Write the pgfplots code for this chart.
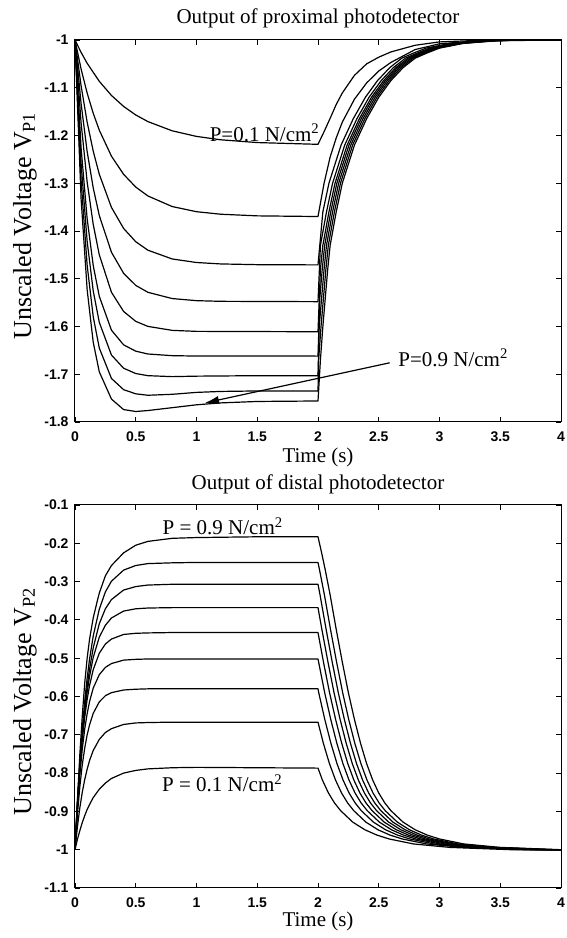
\documentclass[border=0pt]{standalone}
\usepackage{fontspec}
\setmainfont{Liberation Serif}
\newfontfamily\tickfont{Liberation Sans}
\usepackage{pgfplots}
\pgfplotsset{compat=1.18}
\usetikzlibrary{arrows.meta}
\begin{document}
\begin{tikzpicture}
\useasboundingbox (0,0) rectangle (567pt,938pt);
\pgfplotsset{
 mystyle/.style={
  scale only axis, width=486pt,
  xmin=0, xmax=4,
  xtick={0,0.5,1,1.5,2,2.5,3,3.5,4},
  xticklabels={0,0.5,1,1.5,2,2.5,3,3.5,4},
  tick align=inside, xtick pos=both, ytick pos=both, major tick length=5pt,
  axis line style={line width=1.0pt},
  every tick/.style={line width=0.9pt, black},
  tick label style={font=\tickfont\bfseries\fontsize{14}{14}\selectfont},
  xticklabel style={yshift=-6pt},
  yticklabel style={xshift=-3pt},
  ylabel style={font=\fontsize{26}{26}\selectfont, anchor=center},
  every axis plot post/.append style={black, solid, mark=none, line width=1.2pt, line join=round},
 }}
% ---------------- top axis ----------------
\begin{axis}[mystyle, at={(75pt,516pt)}, anchor=south west, height=382pt,
  ymin=-1.8, ymax=-1,
  ytick={-1.8,-1.7,-1.6,-1.5,-1.4,-1.3,-1.2,-1.1,-1},
  yticklabels={-1.8,-1.7,-1.6,-1.5,-1.4,-1.3,-1.2,-1.1,-1},
  ylabel={Unscaled Voltage V\textsubscript{P1}},
  ylabel style={at={(axis description cs:-0.103,0.513)}},
]
% P=0.1
\addplot coordinates {(0,-1) (0.05,-1.0259) (0.1,-1.0487) (0.2,-1.0866) (0.3,-1.1161) (0.4,-1.1391) (0.5,-1.1570) (0.6,-1.1709) (0.8,-1.1902) (1.0,-1.2019) (1.2,-1.2090) (1.5,-1.2148) (2.0,-1.2185)
 (2.05,-1.192) (2.1,-1.164) (2.15,-1.135) (2.2,-1.111) (2.3,-1.074) (2.4,-1.050) (2.5,-1.036) (2.6,-1.025) (2.8,-1.011) (3.0,-1.004) (3.3,-1.001) (4.0,-1.0)};
% P=0.2
\addplot coordinates {(0,-1) (0.05,-1.0605) (0.1,-1.1111) (0.15,-1.1534) (0.2,-1.1889) (0.3,-1.2433) (0.4,-1.2813) (0.5,-1.3080) (0.6,-1.3266) (0.8,-1.3488) (1.0,-1.3596) (1.2,-1.3649) (1.5,-1.3683) (2.0,-1.3697)
 (2.05,-1.300) (2.1,-1.245) (2.15,-1.205) (2.2,-1.172) (2.3,-1.124) (2.4,-1.090) (2.5,-1.065) (2.6,-1.047) (2.8,-1.020) (3.0,-1.008) (3.3,-1.002) (4.0,-1.0)};
% P=0.3
\addplot coordinates {(0,-1) (0.05,-1.0958) (0.1,-1.1720) (0.15,-1.2328) (0.2,-1.2812) (0.3,-1.3506) (0.4,-1.3946) (0.5,-1.4225) (0.6,-1.4402) (0.8,-1.4586) (1.0,-1.4660) (1.2,-1.4690) (1.5,-1.4705) (2.0,-1.471)
 (2.04,-1.36) (2.09,-1.30) (2.19,-1.22) (2.29,-1.165) (2.39,-1.12) (2.49,-1.085) (2.59,-1.058) (2.69,-1.038) (2.79,-1.027) (2.89,-1.017) (3.09,-1.007) (3.39,-1.001) (3.89,-1.0) (4,-1.0)};
% P=0.4
\addplot coordinates {(0,-1) (0.05,-1.1329) (0.1,-1.2336) (0.15,-1.3098) (0.2,-1.3676) (0.3,-1.4445) (0.4,-1.4886) (0.5,-1.5139) (0.6,-1.5284) (0.8,-1.5415) (1.0,-1.5459) (1.2,-1.5473) (2.0,-1.548)
 (2.02,-1.43) (2.07,-1.36) (2.12,-1.30) (2.22,-1.22) (2.32,-1.165) (2.42,-1.12) (2.52,-1.085) (2.62,-1.058) (2.72,-1.038) (2.82,-1.027) (2.92,-1.017) (3.12,-1.007) (3.42,-1.001) (3.92,-1.0) (4,-1.0)};
% P=0.5
\addplot coordinates {(0,-1) (0.05,-1.1732) (0.1,-1.2973) (0.15,-1.3862) (0.2,-1.4499) (0.3,-1.5283) (0.4,-1.5685) (0.5,-1.5892) (0.6,-1.5998) (0.8,-1.6081) (1.0,-1.6102) (2.0,-1.611)
 (2.02,-1.48) (2.04,-1.43) (2.09,-1.36) (2.14,-1.30) (2.24,-1.22) (2.34,-1.165) (2.44,-1.12) (2.54,-1.085) (2.64,-1.058) (2.74,-1.038) (2.84,-1.027) (2.94,-1.017) (3.14,-1.007) (3.44,-1.001) (3.94,-1.0) (4,-1.0)};
% P=0.6
\addplot coordinates {(0,-1) (0.05,-1.2256) (0.1,-1.3743) (0.15,-1.4723) (0.2,-1.5369) (0.3,-1.6077) (0.4,-1.6384) (0.5,-1.6517) (0.6,-1.6576) (0.8,-1.6611) (1.0,-1.6619) (2.0,-1.662)
 (2.015,-1.54) (2.035,-1.48) (2.055,-1.43) (2.105,-1.36) (2.155,-1.30) (2.255,-1.22) (2.355,-1.165) (2.455,-1.12) (2.555,-1.085) (2.655,-1.058) (2.755,-1.038) (2.855,-1.027) (2.955,-1.017) (3.155,-1.007) (3.455,-1.001) (3.955,-1.0) (4,-1.0)};
% P=0.7
\addplot coordinates {(0,-1) (0.05,-1.2578) (0.1,-1.4215) (0.15,-1.5255) (0.2,-1.5914) (0.3,-1.6598) (0.4,-1.6874) (0.5,-1.6985) (0.6,-1.703) (0.8,-1.705) (1.0,-1.704) (1.5,-1.703) (2.0,-1.703)
 (2.01,-1.60) (2.03,-1.54) (2.05,-1.48) (2.07,-1.43) (2.12,-1.36) (2.17,-1.30) (2.27,-1.22) (2.37,-1.165) (2.47,-1.12) (2.57,-1.085) (2.67,-1.058) (2.77,-1.038) (2.87,-1.027) (2.97,-1.017) (3.17,-1.007) (3.47,-1.001) (3.97,-1.0) (4,-1.0)};
% P=0.8
\addplot coordinates {(0,-1) (0.05,-1.2935) (0.1,-1.4716) (0.15,-1.5796) (0.2,-1.6451) (0.3,-1.7088) (0.4,-1.7323) (0.5,-1.741) (0.6,-1.744) (0.8,-1.742) (1.0,-1.738) (1.2,-1.736) (1.5,-1.735) (2.0,-1.735)
 (2.005,-1.67) (2.025,-1.60) (2.045,-1.54) (2.065,-1.48) (2.085,-1.43) (2.135,-1.36) (2.185,-1.30) (2.285,-1.22) (2.385,-1.165) (2.485,-1.12) (2.585,-1.085) (2.685,-1.058) (2.785,-1.038) (2.885,-1.027) (2.985,-1.017) (3.185,-1.007) (3.485,-1.001) (3.985,-1.0) (4,-1.0)};
% P=0.9
\addplot coordinates {(0,-1) (0.05,-1.332) (0.1,-1.523) (0.15,-1.633) (0.2,-1.695) (0.3,-1.752) (0.4,-1.774) (0.5,-1.778) (0.6,-1.776) (0.8,-1.770) (1.0,-1.764) (1.2,-1.760) (1.5,-1.757) (2.0,-1.756)
 (2.02,-1.67) (2.04,-1.60) (2.06,-1.54) (2.08,-1.48) (2.1,-1.43) (2.15,-1.36) (2.2,-1.30) (2.3,-1.22) (2.4,-1.165) (2.5,-1.12) (2.6,-1.085) (2.7,-1.058) (2.8,-1.038) (2.9,-1.027) (3.0,-1.017) (3.2,-1.007) (3.5,-1.001) (4.0,-1.0)};
\node[font=\fontsize{21}{21}\selectfont, anchor=base, inner sep=0pt] at (axis cs:1.56,-1.212) {P=0.1 N/cm\textsuperscript{2}};
\node[font=\fontsize{21}{21}\selectfont, anchor=base west, inner sep=0pt] at (axis cs:2.66,-1.683) {P=0.9 N/cm\textsuperscript{2}};
\draw[line width=1.2pt, -{Latex[length=14pt,width=8pt]}] (axis cs:2.59,-1.676) -- (axis cs:1.07,-1.760);
\end{axis}
% ---------------- bottom axis ----------------
\begin{axis}[mystyle, at={(75pt,50pt)}, anchor=south west, height=383pt,
  ymin=-1.1, ymax=-0.1,
  ytick={-1.1,-1,-0.9,-0.8,-0.7,-0.6,-0.5,-0.4,-0.3,-0.2,-0.1},
  yticklabels={-1.1,-1,-0.9,-0.8,-0.7,-0.6,-0.5,-0.4,-0.3,-0.2,-0.1},
  ylabel={Unscaled Voltage V\textsubscript{P2}},
  ylabel style={at={(axis description cs:-0.103,0.486)}},
]
% P=0.9
\addplot coordinates {(0,-1) (0.02,-0.87) (0.04,-0.75) (0.06,-0.65) (0.08,-0.565) (0.1,-0.50) (0.12,-0.45) (0.15,-0.395) (0.18,-0.355) (0.2,-0.33) (0.25,-0.285) (0.3,-0.258) (0.4,-0.225) (0.5,-0.205) (0.6,-0.195) (0.8,-0.187) (1.0,-0.185) (1.5,-0.183) (2.0,-0.183)
 (2.03,-0.225) (2.06,-0.27) (2.1,-0.335) (2.15,-0.425) (2.2,-0.51) (2.25,-0.59) (2.3,-0.66) (2.35,-0.722) (2.4,-0.775) (2.45,-0.818) (2.5,-0.852) (2.55,-0.878) (2.6,-0.898) (2.7,-0.928) (2.8,-0.948) (2.9,-0.962) (3.0,-0.972) (3.2,-0.985) (3.5,-0.994) (4.0,-1.0)};
% P=0.8
\addplot coordinates {(0,-1) (0.02,-0.875) (0.04,-0.771) (0.06,-0.685) (0.08,-0.612) (0.1,-0.552) (0.12,-0.502) (0.15,-0.442) (0.2,-0.372) (0.25,-0.327) (0.3,-0.299) (0.4,-0.270) (0.5,-0.258) (0.6,-0.253) (0.8,-0.251) (1.0,-0.250) (2.0,-0.250)
 (2.013,-0.27) (2.053,-0.335) (2.103,-0.425) (2.153,-0.51) (2.203,-0.59) (2.253,-0.66) (2.303,-0.722) (2.353,-0.775) (2.403,-0.818) (2.453,-0.852) (2.503,-0.878) (2.553,-0.898) (2.653,-0.928) (2.753,-0.948) (2.853,-0.962) (2.953,-0.972) (3.153,-0.985) (3.453,-0.994) (3.953,-1.0) (4,-1.0)};
% P=0.7
\addplot coordinates {(0,-1) (0.02,-0.880) (0.04,-0.780) (0.06,-0.698) (0.08,-0.630) (0.1,-0.574) (0.12,-0.528) (0.15,-0.473) (0.2,-0.410) (0.25,-0.371) (0.3,-0.347) (0.4,-0.322) (0.5,-0.313) (0.6,-0.309) (0.8,-0.307) (2.0,-0.307)
 (2.017,-0.335) (2.067,-0.425) (2.117,-0.51) (2.167,-0.59) (2.217,-0.66) (2.267,-0.722) (2.317,-0.775) (2.367,-0.818) (2.417,-0.852) (2.467,-0.878) (2.517,-0.898) (2.617,-0.928) (2.717,-0.948) (2.817,-0.962) (2.917,-0.972) (3.117,-0.985) (3.417,-0.994) (3.917,-1.0) (4,-1.0)};
% P=0.6
\addplot coordinates {(0,-1) (0.02,-0.882) (0.04,-0.783) (0.06,-0.704) (0.08,-0.640) (0.1,-0.589) (0.12,-0.547) (0.15,-0.498) (0.2,-0.445) (0.25,-0.414) (0.3,-0.395) (0.4,-0.377) (0.5,-0.371) (0.6,-0.369) (0.8,-0.368) (2.0,-0.368)
 (2.032,-0.425) (2.082,-0.51) (2.132,-0.59) (2.182,-0.66) (2.232,-0.722) (2.282,-0.775) (2.332,-0.818) (2.382,-0.852) (2.432,-0.878) (2.482,-0.898) (2.582,-0.928) (2.682,-0.948) (2.782,-0.962) (2.882,-0.972) (3.082,-0.985) (3.382,-0.994) (3.882,-1.0) (4,-1.0)};
% P=0.5
\addplot coordinates {(0,-1) (0.02,-0.884) (0.04,-0.787) (0.06,-0.713) (0.08,-0.654) (0.1,-0.608) (0.12,-0.571) (0.15,-0.530) (0.2,-0.487) (0.25,-0.463) (0.3,-0.450) (0.4,-0.438) (0.5,-0.435) (0.6,-0.434) (0.8,-0.433) (2.0,-0.433)
 (2.045,-0.51) (2.095,-0.59) (2.145,-0.66) (2.195,-0.722) (2.245,-0.775) (2.295,-0.818) (2.345,-0.852) (2.395,-0.878) (2.445,-0.898) (2.545,-0.928) (2.645,-0.948) (2.745,-0.962) (2.845,-0.972) (3.045,-0.985) (3.345,-0.994) (3.845,-1.0) (4,-1.0)};
% P=0.4
\addplot coordinates {(0,-1) (0.02,-0.890) (0.04,-0.804) (0.06,-0.737) (0.08,-0.685) (0.1,-0.645) (0.12,-0.613) (0.15,-0.578) (0.2,-0.543) (0.25,-0.524) (0.3,-0.514) (0.4,-0.505) (0.5,-0.503) (0.6,-0.502) (2.0,-0.502)
 (2.005,-0.51) (2.055,-0.59) (2.105,-0.66) (2.155,-0.722) (2.205,-0.775) (2.255,-0.818) (2.305,-0.852) (2.355,-0.878) (2.405,-0.898) (2.505,-0.928) (2.605,-0.948) (2.705,-0.962) (2.805,-0.972) (3.005,-0.985) (3.305,-0.994) (3.805,-1.0) (4,-1.0)};
% P=0.3
\addplot coordinates {(0,-1) (0.02,-0.907) (0.04,-0.835) (0.06,-0.778) (0.08,-0.735) (0.1,-0.700) (0.12,-0.674) (0.15,-0.644) (0.2,-0.614) (0.25,-0.598) (0.3,-0.590) (0.4,-0.583) (0.5,-0.581) (0.6,-0.580) (2.0,-0.580)
 (2.006,-0.59) (2.056,-0.66) (2.106,-0.722) (2.156,-0.775) (2.206,-0.818) (2.256,-0.852) (2.306,-0.878) (2.356,-0.898) (2.456,-0.928) (2.556,-0.948) (2.656,-0.962) (2.756,-0.972) (2.956,-0.985) (3.256,-0.994) (3.756,-1.0) (4,-1.0)};
% P=0.2
\addplot coordinates {(0,-1) (0.02,-0.940) (0.04,-0.890) (0.06,-0.850) (0.08,-0.817) (0.1,-0.790) (0.12,-0.767) (0.15,-0.741) (0.2,-0.712) (0.25,-0.694) (0.3,-0.684) (0.4,-0.673) (0.5,-0.669) (0.6,-0.668) (0.8,-0.667) (2.0,-0.667)
 (2.044,-0.722) (2.094,-0.775) (2.144,-0.818) (2.194,-0.852) (2.244,-0.878) (2.294,-0.898) (2.394,-0.928) (2.494,-0.948) (2.594,-0.962) (2.694,-0.972) (2.894,-0.985) (3.194,-0.994) (3.694,-1.0) (4,-1.0)};
% P=0.1
\addplot coordinates {(0,-1) (0.02,-0.973) (0.04,-0.950) (0.06,-0.929) (0.08,-0.911) (0.1,-0.895) (0.12,-0.882) (0.15,-0.864) (0.2,-0.842) (0.25,-0.826) (0.3,-0.814) (0.4,-0.800) (0.5,-0.793) (0.6,-0.789) (0.8,-0.786) (1.0,-0.785) (1.5,-0.786) (2.0,-0.787)
 (2.036,-0.818) (2.086,-0.852) (2.136,-0.878) (2.186,-0.898) (2.286,-0.928) (2.386,-0.948) (2.486,-0.962) (2.586,-0.972) (2.786,-0.985) (3.086,-0.994) (3.586,-1.0) (4,-1.0)};
\node[font=\fontsize{21}{21}\selectfont, anchor=base west, inner sep=0pt] at (axis cs:0.72,-0.178) {P = 0.9 N/cm\textsuperscript{2}};
\node[font=\fontsize{21}{21}\selectfont, anchor=base west, inner sep=0pt] at (axis cs:0.716,-0.849) {P = 0.1 N/cm\textsuperscript{2}};
\end{axis}
% titles and axis labels
\node[font=\fontsize{21}{21}\selectfont, anchor=base, inner sep=0pt] at (318pt,914pt) {Output of proximal photodetector};
\node[font=\fontsize{21}{21}\selectfont, anchor=base, inner sep=0pt] at (318pt,475pt) {Time (s)};
\node[font=\fontsize{21}{21}\selectfont, anchor=base, inner sep=0pt] at (318pt,448pt) {Output of distal photodetector};
\node[font=\fontsize{21}{21}\selectfont, anchor=base, inner sep=0pt] at (318pt,12pt) {Time (s)};
\end{tikzpicture}
\end{document}
